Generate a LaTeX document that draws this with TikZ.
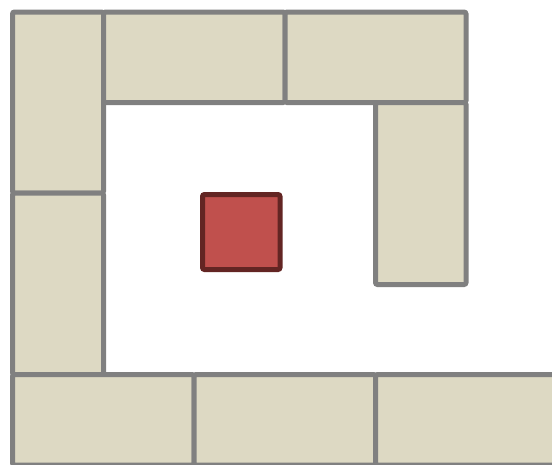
\documentclass[tikz,border=0pt]{standalone}
\usepackage{tikz}
\definecolor{tilefill}{HTML}{DDD9C3}
\definecolor{tileline}{HTML}{808080}
\definecolor{redfill}{HTML}{C0504D}
\definecolor{redline}{HTML}{632523}
\begin{document}
\begin{tikzpicture}[x=1pt,y=-1pt,
  tile/.style={draw=tileline,fill=tilefill,line width=5pt,rounded corners=2pt,inner sep=0pt,outer sep=0pt},
  redbox/.style={draw=redline,fill=redfill,line width=5pt,rounded corners=2pt,inner sep=0pt,outer sep=0pt}]
\useasboundingbox (0,0) rectangle (552,464);
% left column
\node[tile,minimum width=91pt,minimum height=181pt] (l1) at (58,102.5) {};
\node[tile,minimum width=91pt,minimum height=181.5pt] (l2) at (58,283.75) {};
% top row
\node[tile,minimum width=181.5pt,minimum height=90.5pt] (t1) at (194.25,57.25) {};
\node[tile,minimum width=181pt,minimum height=90.5pt] (t2) at (375.5,57.25) {};
% right column
\node[tile,minimum width=90.5pt,minimum height=182pt] (r1) at (420.75,193.5) {};
% bottom row
\node[tile,minimum width=181.5pt,minimum height=90.5pt] (b1) at (103.25,419.75) {};
\node[tile,minimum width=181.5pt,minimum height=90.5pt] (b2) at (284.75,419.75) {};
\node[tile,minimum width=181.5pt,minimum height=90.5pt] (b3) at (466.25,419.75) {};
% red square
\node[redbox,minimum width=77.5pt,minimum height=75pt] (red) at (241.25,232) {};
\end{tikzpicture}
\end{document}
